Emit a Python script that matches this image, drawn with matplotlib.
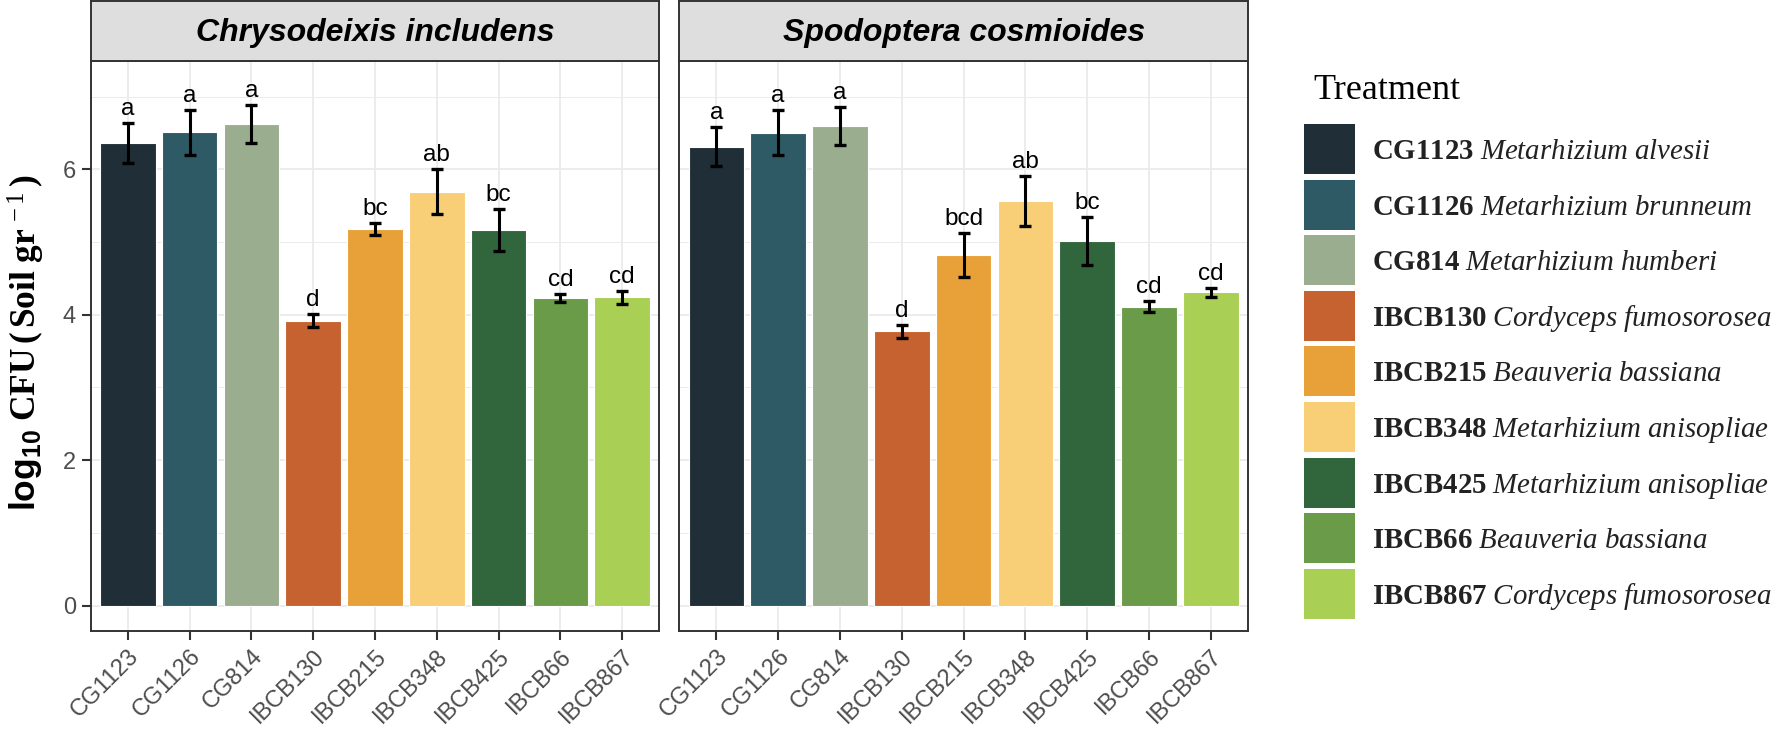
import matplotlib
matplotlib.use('Agg')
import matplotlib.pyplot as plt
from matplotlib.patches import Rectangle
import numpy as np

plt.rcParams['mathtext.fontset'] = 'custom'
plt.rcParams['mathtext.rm'] = 'Liberation Serif'
plt.rcParams['mathtext.bf'] = 'Liberation Serif:bold'
plt.rcParams['mathtext.it'] = 'Liberation Serif:italic'
plt.rcParams['mathtext.sf'] = 'Liberation Sans:bold'

# ---------------- data ----------------
strains = ['CG1123', 'CG1126', 'CG814', 'IBCB130', 'IBCB215',
           'IBCB348', 'IBCB425', 'IBCB66', 'IBCB867']
species = ['Metarhizium alvesii', 'Metarhizium brunneum', 'Metarhizium humberi',
           'Cordyceps fumosorosea', 'Beauveria bassiana', 'Metarhizium anisopliae',
           'Metarhizium anisopliae', 'Beauveria bassiana', 'Cordyceps fumosorosea']
colors = ['#1F2E37', '#2D5A65', '#9BAD8F', '#C5622F', '#E8A139',
          '#F8CE77', '#31663C', '#6A9B48', '#AACF55']
panels = ['Chrysodeixis includens', 'Spodoptera cosmioides']

mean_ci = [6.36, 6.51, 6.62, 3.92, 5.18, 5.69, 5.17, 4.23, 4.24]
se_ci = [0.28, 0.31, 0.26, 0.085, 0.085, 0.31, 0.29, 0.05, 0.09]
letters_ci = ['a', 'a', 'a', 'd', 'bc', 'ab', 'bc', 'cd', 'cd']

mean_sc = [6.31, 6.50, 6.59, 3.77, 4.82, 5.56, 5.02, 4.11, 4.31]
se_sc = [0.27, 0.31, 0.26, 0.085, 0.30, 0.345, 0.33, 0.075, 0.06]
letters_sc = ['a', 'a', 'a', 'd', 'bcd', 'ab', 'bc', 'cd', 'cd']

means = [mean_ci, mean_sc]
ses = [se_ci, se_sc]
letters = [letters_ci, letters_sc]

yticks = [0, 2, 4, 6]
legend_title = 'Treatment'

# ---------------- layout ----------------
W, H = 1787, 732
fig = plt.figure(figsize=(W / 100, H / 100), dpi=100)
fig.patch.set_facecolor('white')

def fx(px):
    return px / W

def fy(py):
    return 1 - py / H

panel_left = [90.7, 679.3]
panel_w = 568.6
panel_top, panel_bot = 61.0, 630.7
strip_top = 1.3

border_col = '#333333'
grid_col = '#EBEBEB'
tick_lab_col = '#4D4D4D'

x = np.arange(len(strains))
for p in range(2):
    ax = fig.add_axes([fx(panel_left[p]), fy(panel_bot), fx(panel_w),
                       (panel_bot - panel_top) / H])
    ax.set_xlim(-0.6, len(strains) - 0.4)
    ax.set_ylim(-0.344, 7.489)
    # grid
    for yv in [1, 3, 5, 7]:
        ax.axhline(yv, color=grid_col, lw=0.7, zorder=0)
    for yv in yticks:
        ax.axhline(yv, color=grid_col, lw=1.3, zorder=0)
    for xv in x:
        ax.axvline(xv, color=grid_col, lw=1.3, zorder=0)
    ax.bar(x, means[p], width=0.9, color=colors, edgecolor='white',
           linewidth=0.8, zorder=2)
    ax.errorbar(x, means[p], yerr=ses[p], fmt='none', ecolor='black',
                elinewidth=2.2, capsize=4.6, capthick=2.4, zorder=3)
    for i in x:
        ax.text(i, means[p][i] + ses[p][i] + 0.11, letters[p][i],
                ha='center', va='baseline', fontsize=17.5,
                family='Liberation Sans', color='black', zorder=4)
    ax.set_xticks(x)
    ax.set_xticklabels(strains, rotation=45, ha='right', va='top',
                       rotation_mode='anchor', fontsize=17,
                       family='Liberation Sans', color=tick_lab_col)
    ax.set_yticks(yticks)
    if p == 0:
        ax.set_yticklabels([str(v) for v in yticks], fontsize=17,
                           family='Liberation Sans', color=tick_lab_col)
    else:
        ax.set_yticklabels([])
    ax.tick_params(axis='both', length=6.5, width=1.5, color=border_col,
                   pad=4)
    if p == 1:
        ax.tick_params(axis='y', length=0)
    for s in ax.spines.values():
        s.set_color(border_col)
        s.set_linewidth(1.4)
        s.set_zorder(5)

    # strip
    sax = fig.add_axes([fx(panel_left[p]), fy(panel_top), fx(panel_w),
                        (panel_top - strip_top) / H])
    sax.set_facecolor('#DEDEDE')
    sax.set_xticks([])
    sax.set_yticks([])
    for s in sax.spines.values():
        s.set_color(border_col)
        s.set_linewidth(1.4)
    sax.text(0.5, 0.47, panels[p], ha='center', va='center',
             fontsize=23, fontweight='bold', fontstyle='italic',
             family='Liberation Sans', color='black',
             transform=sax.transAxes)

# y label
fig.text(fx(26), fy(343),
         r'$\mathsf{log}_{\mathsf{10}}\ \mathbf{CFU\,(\,Soil\ gr}^{\,-1}\mathbf{\,)}$',
         rotation=90, ha='center', va='center', fontsize=25.5, color='black')

# legend
fig.text(fx(1313), fy(99), legend_title, ha='left', va='baseline',
         fontsize=26, family='Liberation Serif', color='black')
key_left, key_w, key_h, key_top0, pitch = 1304, 51, 50, 124, 55.6
for i, (st, sp, c) in enumerate(zip(strains, species, colors)):
    top = key_top0 + i * pitch
    fig.add_artist(Rectangle((fx(key_left), fy(top + key_h)), fx(key_w),
                             key_h / H, transform=fig.transFigure,
                             facecolor=c, edgecolor='none'))
    sp_tex = sp.replace(' ', r'\ ')
    fig.text(fx(1372), fy(top + 35),
             r'$\mathbf{' + st + r'}\ \mathit{' + sp_tex + r'}$',
             ha='left', va='baseline', fontsize=20.8, color='#222222')

fig.savefig('out.png', dpi=100, facecolor='white')
